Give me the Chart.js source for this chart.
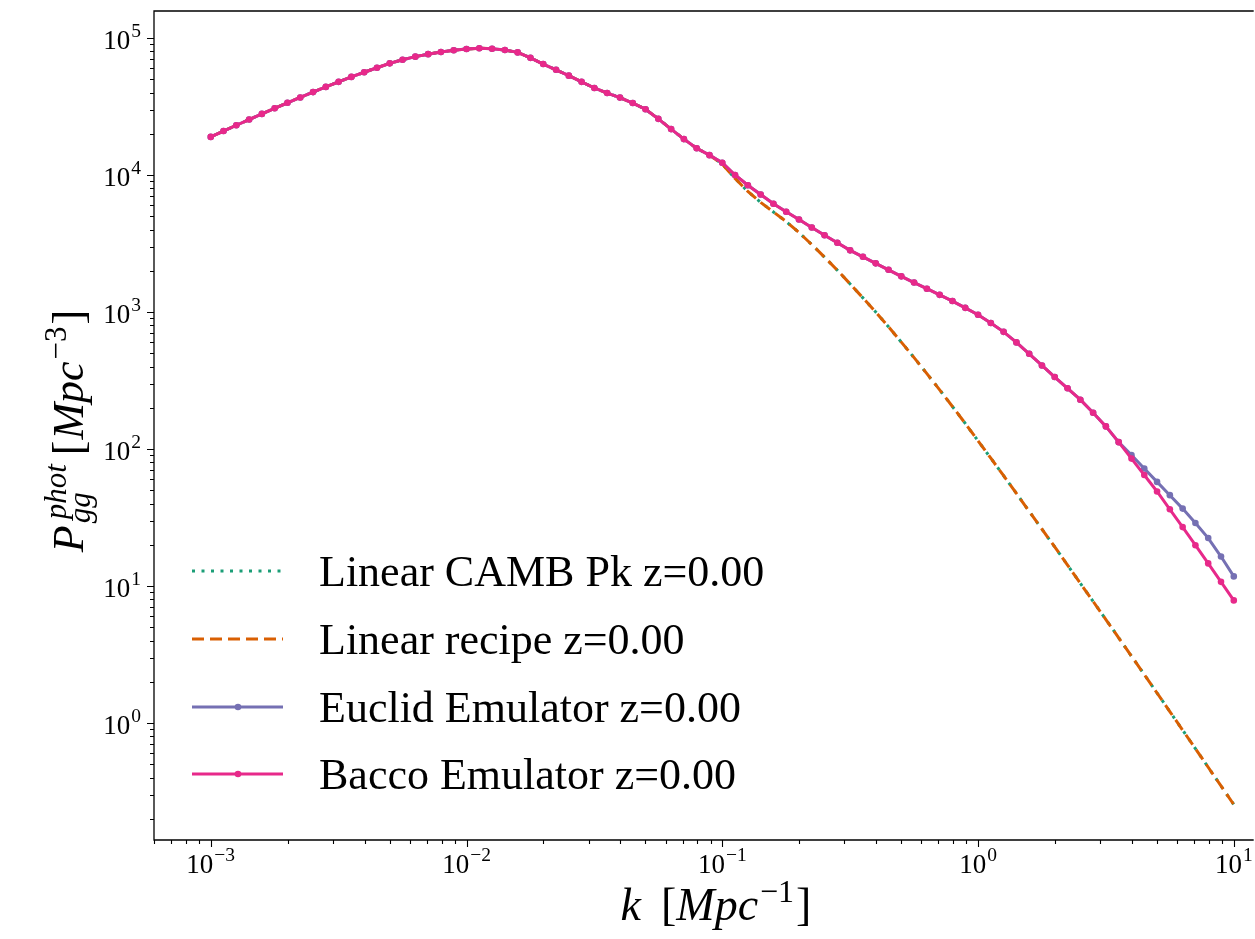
<!DOCTYPE html>
<html lang="en">
<head>
  <meta charset="UTF-8">
  <title>P_gg phot</title>
  <script src="https://cdn.jsdelivr.net/npm/chart.js"></script>
  <style>
    html, body { margin: 0; padding: 0; background: #fff; }
    canvas { display: block; }
  </style>
</head>
<body>
  <canvas id="pk" width="1255" height="939"></canvas>

  <script>
    // k grid [1/Mpc]
    const kValues = [
      0.001, 0.001122, 0.001259, 0.001413, 0.001585, 0.001778, 0.001995, 0.002239, 0.002512, 0.002818,
      0.003162, 0.003548, 0.003981, 0.004467, 0.005012, 0.005623, 0.00631, 0.007079, 0.007943, 0.008913,
      0.01, 0.01122, 0.01259, 0.01413, 0.01585, 0.01778, 0.01995, 0.02239, 0.02512, 0.02818,
      0.03162, 0.03548, 0.03981, 0.04467, 0.05012, 0.05623, 0.0631, 0.07079, 0.07943, 0.08913,
      0.1, 0.1122, 0.1259, 0.1413, 0.1585, 0.1778, 0.1995, 0.2239, 0.2512, 0.2818,
      0.3162, 0.3548, 0.3981, 0.4467, 0.5012, 0.5623, 0.631, 0.7079, 0.7943, 0.8913,
      1, 1.122, 1.259, 1.413, 1.585, 1.778, 1.995, 2.239, 2.512, 2.818,
      3.162, 3.548, 3.981, 4.467, 5.012, 5.623, 6.31, 7.079, 7.943, 8.913,
      10
    ];

    // linear P(k): CAMB and the linear recipe lie on top of each other
    const pLinear = [
      18970, 20940, 23070, 25410, 27930, 30690, 33650, 36810, 40270, 43950,
      47860, 52000, 56230, 60670, 65310, 69340, 73110, 76210, 79070, 81280,
      83180, 84140, 83560, 81660, 78520, 71610, 64570, 58610, 53090, 47860,
      43150, 39630, 36730, 33500, 30200, 25700, 21630, 18280, 15670, 13960,
      12020, 9441, 7586, 6310, 5370, 4571, 3802, 3105, 2512, 2018,
      1603, 1268, 1000, 779.8, 602.6, 464.5, 354.8, 270.4, 204.2, 153.8,
      114.8, 85.70, 63.83, 47.42, 35.08, 26.00, 19.28, 14.22, 10.47, 7.727,
      5.689, 4.188, 3.076, 2.259, 1.656, 1.213, 0.8872, 0.6501, 0.4753, 0.3475,
      0.2541
    ];

    const pEuclid = [
      18970, 20940, 23070, 25410, 27930, 30690, 33650, 36810, 40270, 43950,
      47860, 52000, 56230, 60670, 65310, 69340, 73110, 76210, 79070, 81280,
      83180, 84140, 83560, 81660, 78520, 71610, 64570, 58610, 53090, 47860,
      43150, 39630, 36730, 33500, 30200, 25700, 21630, 18280, 15670, 13960,
      12300, 10000, 8414, 7211, 6166, 5395, 4732, 4140, 3631, 3199,
      2818, 2529, 2265, 2032, 1820, 1641, 1479, 1334, 1202, 1072,
      955, 831.8, 716.1, 599.8, 495.5, 407.4, 335.0, 277.3, 229.1, 184.1,
      146.2, 112.2, 90.16, 72.11, 57.54, 46.03, 36.73, 28.84, 22.39, 16.41,
      11.75
    ];

    const pBacco = [
      18970, 20940, 23070, 25410, 27930, 30690, 33650, 36810, 40270, 43950,
      47860, 52000, 56230, 60670, 65310, 69340, 73110, 76210, 79070, 81280,
      83180, 84140, 83560, 81660, 78520, 71610, 64570, 58610, 53090, 47860,
      43150, 39630, 36730, 33500, 30200, 25700, 21630, 18280, 15670, 13960,
      12300, 10000, 8414, 7211, 6166, 5395, 4732, 4140, 3631, 3199,
      2818, 2529, 2265, 2032, 1820, 1641, 1479, 1334, 1202, 1072,
      955, 831.8, 716.1, 599.8, 495.5, 407.4, 335.0, 277.3, 229.1, 184.1,
      146.2, 112.2, 85.11, 64.57, 48.98, 36.31, 26.92, 19.86, 14.62, 10.72,
      7.852
    ];

    const seriesLabels = [
      'Linear CAMB Pk z=0.00',
      'Linear recipe z=0.00',
      'Euclid Emulator z=0.00',
      'Bacco Emulator z=0.00'
    ];

    const xDecades = [-3, -2, -1, 0, 1];     // labelled x ticks (powers of ten)
    const yDecades = [0, 1, 2, 3, 4, 5];     // labelled y ticks

    const SERIF = '"Liberation Serif", "DejaVu Serif", serif';
    const MINUS = '\u2212';

    function pts(arr) {
      return kValues.map((k, i) => ({ x: k, y: arr[i] }));
    }

    function fontOf(r) {
      return (r.it ? 'italic ' : '') + r.size + 'px ' + SERIF;
    }

    function runWidth(ctx, r) {
      if (r.stack) return Math.max(...r.stack.map(s => runWidth(ctx, s) + (s.dx || 0))) + (r.gap || 0);
      ctx.font = fontOf(r);
      return ctx.measureText(r.t).width + (r.gap || 0);
    }

    function totalWidth(ctx, runs) {
      return runs.reduce((w, r) => w + runWidth(ctx, r), 0);
    }

    // draws a small "mathtext" like sequence of runs starting at x, baseline y
    function drawRuns(ctx, runs, x, y) {
      let cx = x;
      runs.forEach(r => {
        if (r.stack) {
          r.stack.forEach(s => {
            ctx.font = fontOf(s);
            ctx.fillText(s.t, cx + (s.dx || 0), y + (s.dy || 0));
          });
        } else {
          ctx.font = fontOf(r);
          ctx.fillText(r.t, cx, y + (r.dy || 0));
        }
        cx += runWidth(ctx, r);
      });
    }

    function powRuns(exp) {
      const e = exp < 0 ? MINUS + Math.abs(exp) : String(exp);
      return [{ t: '10', size: 27, gap: 1 }, { t: e, size: 19.5, dy: -12 }];
    }

    const axesPlugin = {
      id: 'axesPlugin',
      afterDraw(chart) {
        const { ctx, chartArea: a, scales: { x, y } } = chart;
        ctx.save();
        ctx.fillStyle = '#000';
        ctx.strokeStyle = '#000';
        ctx.textBaseline = 'alphabetic';

        // spines (right one is outside the picture)
        ctx.lineWidth = 1.3;
        ctx.beginPath();
        ctx.moveTo(a.right + 2, a.top);
        ctx.lineTo(a.left, a.top);
        ctx.lineTo(a.left, a.bottom);
        ctx.lineTo(a.right + 2, a.bottom);
        ctx.stroke();

        // ticks
        ctx.lineWidth = 1.1;
        ctx.beginPath();
        for (let e = -4; e <= 1; e++) {
          for (let m = 1; m <= 9; m++) {
            const v = m * Math.pow(10, e);
            if (v < x.min || v > x.max) continue;
            const px = Math.round(x.getPixelForValue(v)) + 0.5;
            ctx.moveTo(px, a.bottom);
            ctx.lineTo(px, a.bottom + (m === 1 ? 7 : 4));
          }
        }
        for (let e = -1; e <= 5; e++) {
          for (let m = 1; m <= 9; m++) {
            const v = m * Math.pow(10, e);
            if (v < y.min || v > y.max) continue;
            const py = Math.round(y.getPixelForValue(v)) + 0.5;
            ctx.moveTo(a.left, py);
            ctx.lineTo(a.left - (m === 1 ? 7 : 4), py);
          }
        }
        ctx.stroke();

        // tick labels
        xDecades.forEach(e => {
          const runs = powRuns(e);
          const w = totalWidth(ctx, runs);
          const px = x.getPixelForValue(Math.pow(10, e));
          drawRuns(ctx, runs, px - w / 2, a.bottom + 33);
        });
        yDecades.forEach(e => {
          const runs = powRuns(e);
          const w = totalWidth(ctx, runs);
          const py = y.getPixelForValue(Math.pow(10, e));
          drawRuns(ctx, runs, 141 - w, py + 11);
        });

        // x label
        const xl = [
          { t: 'k', it: true, size: 46, gap: 20 },
          { t: '[', size: 46 },
          { t: 'Mpc', it: true, size: 46, gap: 2 },
          { t: MINUS + '1', size: 32, dy: -18, gap: 2 },
          { t: ']', size: 46 }
        ];
        const xw = totalWidth(ctx, xl);
        drawRuns(ctx, xl, 716 - xw / 2, 920);

        // y label, rotated
        const yl = [
          { t: 'P', it: true, size: 44, gap: 2 },
          { stack: [
            { t: 'phot', it: true, size: 31, dy: -17, dx: 4 },
            { t: 'gg', it: true, size: 31, dy: 7 }
          ], gap: 9 },
          { t: '[', size: 44, gap: 1 },
          { t: 'Mpc', it: true, size: 44, gap: 2 },
          { t: MINUS + '3', size: 31, dy: -17, gap: 2 },
          { t: ']', size: 44 }
        ];
        const yw = totalWidth(ctx, yl);
        ctx.save();
        ctx.translate(83, 431);
        ctx.rotate(-Math.PI / 2);
        drawRuns(ctx, yl, -yw / 2, 0);
        ctx.restore();

        // legend inside the axes, lower left
        const rows = [571, 639, 707, 774];
        seriesLabels.forEach((label, i) => {
          const ds = chart.data.datasets[i];
          const ry = rows[i];
          ctx.save();
          ctx.strokeStyle = ds.borderColor;
          ctx.lineWidth = ds.borderWidth;
          ctx.setLineDash(ds.borderDash || []);
          ctx.beginPath();
          ctx.moveTo(192, ry);
          ctx.lineTo(283, ry);
          ctx.stroke();
          if (ds.pointRadius > 0) {
            ctx.fillStyle = ds.borderColor;
            ctx.beginPath();
            ctx.arc(238, ry, ds.pointRadius, 0, Math.PI * 2);
            ctx.fill();
          }
          ctx.restore();
          ctx.font = '44px ' + SERIF;
          ctx.fillText(label, 319, ry + 15);
        });

        ctx.restore();
      }
    };

    const lineBase = {
      fill: false,
      tension: 0,
      borderWidth: 3,
      pointHoverRadius: 0,
      pointBorderWidth: 0
    };

    new Chart(document.getElementById('pk').getContext('2d'), {
      type: 'line',
      data: {
        datasets: [
          Object.assign({}, lineBase, {
            label: seriesLabels[0], data: pts(pLinear), order: 4,
            borderColor: '#1b9e77', borderDash: [3, 6.5], pointRadius: 0
          }),
          Object.assign({}, lineBase, {
            label: seriesLabels[1], data: pts(pLinear), order: 3,
            borderColor: '#d95f02', borderDash: [12, 6], pointRadius: 0
          }),
          Object.assign({}, lineBase, {
            label: seriesLabels[2], data: pts(pEuclid), order: 2,
            borderColor: '#7570b3', pointBackgroundColor: '#7570b3', pointRadius: 3.3
          }),
          Object.assign({}, lineBase, {
            label: seriesLabels[3], data: pts(pBacco), order: 1,
            borderColor: '#e7298a', pointBackgroundColor: '#e7298a', pointRadius: 3.3
          })
        ]
      },
      options: {
        responsive: false,
        animation: false,
        events: [],
        layout: { padding: { left: 154, top: 11, right: 0, bottom: 99 } },
        scales: {
          x: {
            type: 'logarithmic',
            min: 0.000622,
            max: 11.75,
            grid: { display: false },
            border: { display: false },
            ticks: { display: false },
            afterFit(s) { s.height = 0; }
          },
          y: {
            type: 'logarithmic',
            min: 0.14,
            max: 157400,
            grid: { display: false },
            border: { display: false },
            ticks: { display: false },
            afterFit(s) { s.width = 0; }
          }
        },
        plugins: {
          legend: { display: false },
          tooltip: { enabled: false }
        }
      },
      plugins: [axesPlugin]
    });
  </script>
</body>
</html>
